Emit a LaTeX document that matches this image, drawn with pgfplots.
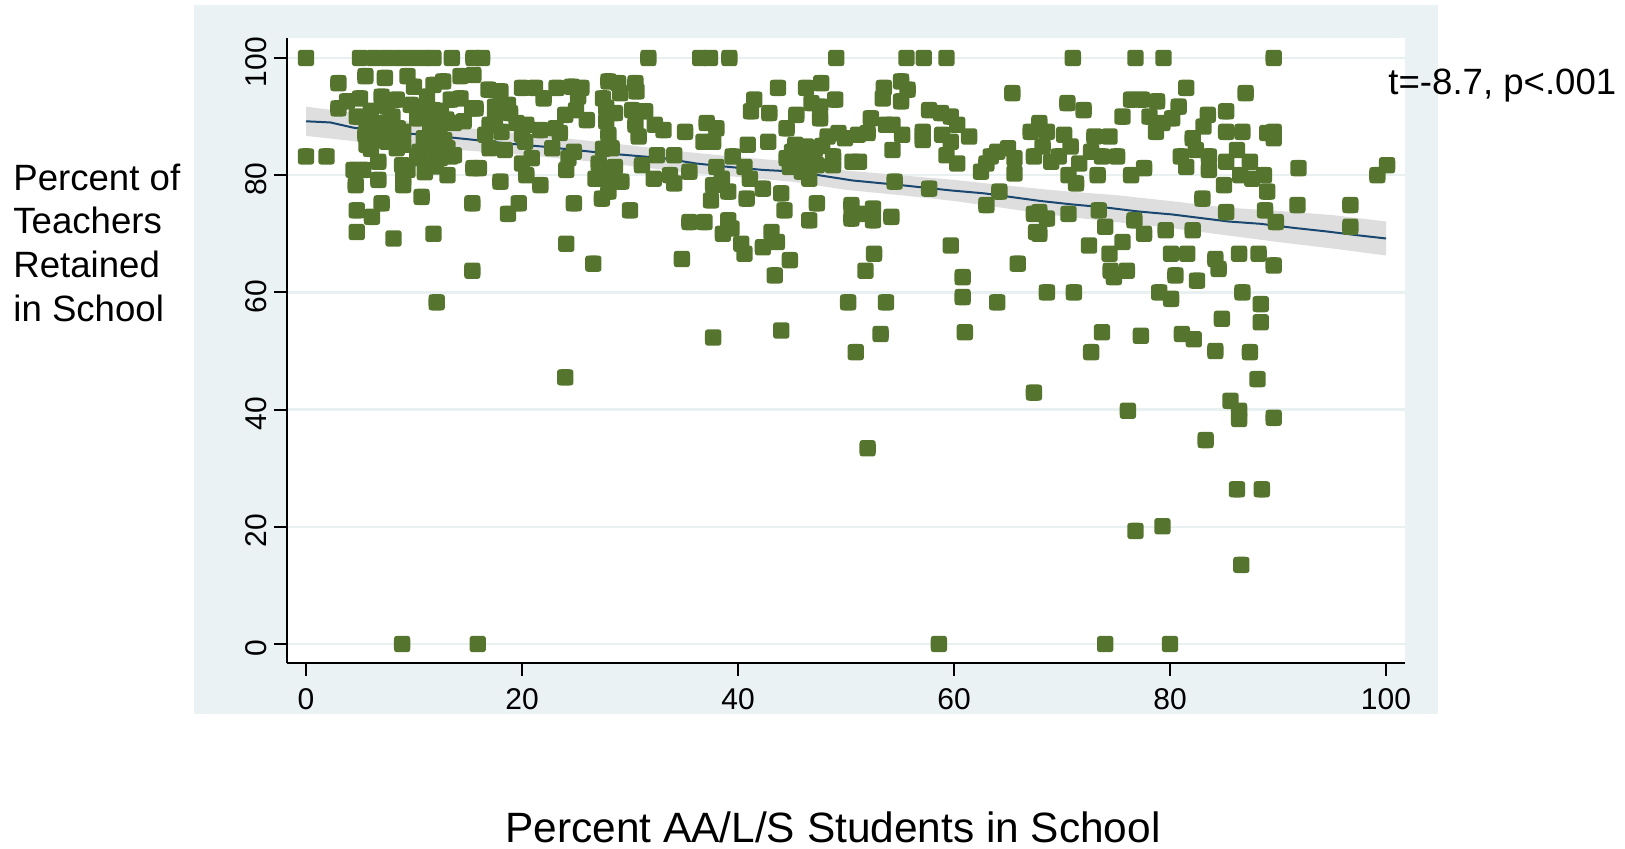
\documentclass[border=0pt]{standalone}
\usepackage{pgfplots}
\pgfplotsset{compat=1.18}
\usepackage{fontspec}
\setmainfont{Liberation Sans}

\definecolor{graphbg}{RGB}{234,242,243}
\definecolor{gridc}{RGB}{232,240,242}
\definecolor{mk}{RGB}{85,117,46}
\definecolor{fitline}{RGB}{26,71,111}
\definecolor{band}{RGB}{222,222,222}

% rounded-square marker
\pgfdeclareplotmark{rsq}{%
  \pgfpathmoveto{\pgfqpoint{0pt}{-\pgfplotmarksize}}%
  \pgfpathlineto{\pgfqpoint{0.4\pgfplotmarksize}{-\pgfplotmarksize}}%
  \pgfpathcurveto{\pgfqpoint{0.92\pgfplotmarksize}{-\pgfplotmarksize}}{\pgfqpoint{\pgfplotmarksize}{-0.92\pgfplotmarksize}}{\pgfqpoint{\pgfplotmarksize}{-0.4\pgfplotmarksize}}%
  \pgfpathlineto{\pgfqpoint{\pgfplotmarksize}{0.4\pgfplotmarksize}}%
  \pgfpathcurveto{\pgfqpoint{\pgfplotmarksize}{0.92\pgfplotmarksize}}{\pgfqpoint{0.92\pgfplotmarksize}{\pgfplotmarksize}}{\pgfqpoint{0.4\pgfplotmarksize}{\pgfplotmarksize}}%
  \pgfpathlineto{\pgfqpoint{-0.4\pgfplotmarksize}{\pgfplotmarksize}}%
  \pgfpathcurveto{\pgfqpoint{-0.92\pgfplotmarksize}{\pgfplotmarksize}}{\pgfqpoint{-\pgfplotmarksize}{0.92\pgfplotmarksize}}{\pgfqpoint{-\pgfplotmarksize}{0.4\pgfplotmarksize}}%
  \pgfpathlineto{\pgfqpoint{-\pgfplotmarksize}{-0.4\pgfplotmarksize}}%
  \pgfpathcurveto{\pgfqpoint{-\pgfplotmarksize}{-0.92\pgfplotmarksize}}{\pgfqpoint{-0.92\pgfplotmarksize}{-\pgfplotmarksize}}{\pgfqpoint{-0.4\pgfplotmarksize}{-\pgfplotmarksize}}%
  \pgfpathclose
  \pgfusepathqfill
}

\pgfplotstableread{
x y
0 100
5.0 100
6.3 100
7.5 100
8.7 100
9.8 100
10.9 100
11.8 100
13.5 100
15.5 100
3.0 95.7
5.5 96.9
7.3 96.6
9.4 96.9
10.0 95.1
11.8 95.4
12.7 96.0
14.3 96.9
15.5 97.1
3.8 92.6
3.0 91.4
5.0 93.1
7.0 93.4
7.5 91.7
8.4 92.9
9.7 92.0
11.2 93.4
11.8 91.1
13.4 92.9
14.3 93.1
15.4 91.4
4.7 90.0
5.6 89.2
6.9 88.9
7.5 88.3
9.0 87.4
10.3 89.7
11.2 90.3
12.4 88.6
13.7 88.9
14.6 89.2
5.5 86.9
5.6 85.2
6.6 86.9
7.5 85.7
8.4 84.6
9.0 85.2
10.9 86.3
11.8 85.2
13.1 84.6
13.7 83.4
0 83.2
1.9 83.2
6.7 82.3
8.9 81.7
10.3 82.9
11.2 82.3
12.4 82.9
13.4 83.2
4.4 80.9
5.3 80.9
4.6 78.3
6.7 79.2
9.0 79.4
9.4 80.9
9.0 78.3
13.1 80.0
15.5 81.2
10.7 76.3
7.0 75.2
4.7 74.0
6.1 72.9
15.4 75.2
4.7 70.3
8.1 69.2
11.8 70.0
15.4 63.7
12.1 58.3
8.9 0
15.9 0
10.5 84.0
11.5 87.5
12.0 84.0
12.8 86.0
10.8 91.5
12.5 91.0
13.0 89.5
11.0 80.5
12.0 81.5
6.0 91.0
8.0 90.0
8.5 88.0
6.0 84.5
16.3 100
31.7 100
16.9 94.6
18.0 94.3
20.0 94.9
21.2 94.9
22.0 93.1
23.2 94.9
24.6 95.1
25.5 94.9
25.2 93.4
27.5 93.1
28.0 96.0
28.9 95.7
29.1 94.0
30.5 95.7
30.6 94.3
15.7 91.4
17.5 91.7
18.7 92.0
17.5 89.7
18.9 90.6
17.0 88.6
16.6 86.9
18.1 87.4
19.5 88.9
20.4 88.6
21.7 87.7
20.0 86.9
20.3 85.7
23.1 88.0
23.5 87.2
24.0 90.3
25.0 91.1
26.0 89.4
27.8 89.2
28.0 86.9
28.6 90.6
30.2 91.1
31.4 90.9
30.5 88.6
32.3 88.6
30.8 86.6
17.0 84.6
18.4 84.3
22.8 84.6
24.8 84.0
28.3 84.6
32.5 83.4
16.0 81.2
20.0 82.0
20.9 82.9
20.4 80.0
24.3 82.9
24.1 80.9
27.1 82.0
26.8 79.4
28.6 81.4
29.2 78.9
28.0 77.2
27.4 76.0
31.1 81.7
32.2 79.4
18.0 78.9
21.7 78.3
19.7 75.2
18.7 73.4
24.8 75.2
30.0 74.0
24.1 68.3
26.6 64.9
24.0 45.5
27.8 91.5
27.5 84.5
27.2 80.5
28.2 79.5
36.5 100
37.4 100
39.2 100
49.1 100
43.7 94.9
46.3 94.9
47.7 95.7
41.5 92.9
41.2 90.9
42.9 90.6
45.4 90.3
46.8 92.3
47.6 91.7
49.0 92.9
47.6 89.7
33.1 87.7
35.1 87.4
37.1 88.9
38.0 88.0
36.8 85.7
37.7 85.7
40.9 85.2
42.8 85.7
44.5 88.0
48.3 86.6
49.3 87.2
49.9 86.3
45.3 85.2
46.3 84.9
47.1 84.3
34.1 83.4
39.5 83.2
44.5 82.9
44.8 81.4
45.7 82.9
46.6 81.7
47.3 81.7
48.8 83.2
48.8 81.7
50.6 82.3
33.7 80.0
34.1 78.6
35.5 80.6
38.0 81.4
38.5 79.4
40.6 81.4
41.1 79.4
42.3 77.7
45.9 80.6
46.6 79.4
37.7 78.3
39.1 77.2
37.5 75.7
40.8 76.0
44.0 76.9
44.3 74.0
47.3 75.2
46.6 72.3
50.5 74.9
50.5 72.6
35.5 72.0
36.9 72.0
39.1 72.3
39.4 70.9
38.6 70.0
40.3 68.3
40.6 66.6
42.3 67.7
43.1 70.3
43.6 68.6
44.8 65.5
43.4 62.9
34.8 65.7
50.2 58.3
44.0 53.5
37.7 52.3
45.0 84.0
46.0 83.5
47.8 85.0
55.6 100
57.2 100
59.3 100
53.5 94.9
55.1 96.0
55.7 94.6
53.4 93.1
55.1 92.6
65.4 94.0
57.7 91.1
58.8 90.6
59.7 90.0
60.3 88.6
52.3 89.7
53.7 88.6
54.3 88.6
52.0 87.2
51.1 86.9
55.2 86.9
57.1 87.4
57.1 86.0
58.9 86.9
59.7 85.7
61.4 86.6
54.3 84.3
59.3 83.4
60.3 82.0
51.2 82.3
63.4 83.2
65.0 84.6
65.6 82.9
67.1 87.4
67.4 83.2
62.5 80.6
65.6 80.3
54.5 78.9
57.7 77.7
64.2 77.2
63.0 74.9
51.4 73.4
52.5 74.3
52.5 72.3
54.2 72.9
67.4 73.4
67.6 70.3
59.7 68.0
52.6 66.6
51.8 63.7
65.9 64.9
60.8 62.6
60.8 59.2
64.0 58.3
53.7 58.3
53.2 52.9
61.0 53.2
50.9 49.8
67.4 42.9
58.6 0
52.0 33.4
63.0 82.0
64.0 84.0
71.0 100
76.8 100
79.4 100
81.5 94.9
70.5 92.3
72.0 91.1
75.6 90.0
76.4 92.9
77.4 92.9
78.8 92.6
78.1 90.0
80.8 91.7
80.2 89.7
79.3 88.9
78.7 87.4
83.5 90.3
83.1 88.3
85.2 90.9
85.2 87.4
67.9 88.9
68.6 87.4
68.2 84.9
70.2 86.9
70.8 84.9
73.0 86.6
74.4 86.6
72.7 84.0
73.7 83.2
75.1 83.2
69.7 83.2
69.0 82.3
71.6 82.0
70.6 80.0
71.3 78.6
73.3 80.0
76.4 80.0
77.6 81.2
81.0 83.2
81.5 81.4
82.1 86.3
82.4 84.3
83.6 83.2
83.6 80.9
85.2 82.3
85.0 78.3
83.0 76.0
85.2 73.7
67.9 73.7
68.6 72.6
67.9 70.0
70.6 73.4
73.4 74.0
74.0 71.2
76.7 72.3
77.6 70.0
79.6 70.6
82.1 70.6
72.5 68.0
74.4 66.6
75.6 68.6
80.1 66.6
81.6 66.6
84.2 65.7
84.5 64.0
74.5 63.7
74.8 62.6
76.0 63.7
80.5 62.9
82.5 62.0
68.6 60.0
71.1 60.0
79.0 60.0
80.1 58.9
84.8 55.5
73.7 53.2
77.3 52.6
81.1 52.9
82.2 52.0
72.7 49.8
84.2 50.0
76.1 39.8
74.0 0
80.0 0
76.8 19.3
79.3 20.1
83.3 34.8
89.6 100
87.0 94.0
86.7 87.4
89.0 87.2
89.6 86.3
89.6 87.4
86.2 84.3
87.4 82.3
86.5 80.0
87.6 79.4
88.7 80.0
89.0 77.2
91.9 81.2
99.2 80.0
100.1 81.7
91.8 74.9
96.7 74.9
88.8 74.0
89.8 72.0
96.7 71.2
86.4 66.6
88.2 66.6
89.6 64.6
86.7 60.0
88.4 58.0
88.4 54.9
87.4 49.8
88.1 45.2
85.6 41.5
86.4 39.8
86.4 38.4
89.6 38.6
86.2 26.4
88.5 26.4
86.6 13.5
}\retention

\begin{document}
\begin{tikzpicture}
% page extent
\path (0pt,0pt) rectangle (812.5pt,424pt);
% graph region
\fill[graphbg] (97pt,67pt) rectangle (719pt,421.5pt);

\begin{axis}[
  at={(143.5pt,92.5pt)}, anchor=south west,
  width=559pt, height=312.5pt, scale only axis,
  xmin=-1.76, xmax=101.76, ymin=-3.24, ymax=103.41,
  axis x line*=bottom, axis y line*=left,
  axis line style={line width=1pt, black},
  xtick={0,20,...,100}, ytick={0,20,...,100},
  tick align=outside, major tick length=6.5pt,
  tick style={line width=1pt, black},
  ymajorgrids, grid style={line width=1.3pt, gridc},
  axis background/.style={fill=white},
  tick label style={font=\fontsize{15}{18}\selectfont},
  /pgf/number format/assume math mode=true,
  yticklabel style={rotate=90, anchor=south, xshift=-2pt},
  xticklabel style={yshift=-2.5pt},
]
% confidence band of the fit
\addplot[fill=band, draw=none] coordinates {
  (0,91.7) (5,90.5) (10,89.0) (15,88.0) (20,87.1) (25,86.1) (30,85.1)
  (35,84.0) (40,83.1) (45,82.3) (50,80.8) (55,80.0) (60,79.2) (65,78.2)
  (70,77.3) (75,76.6) (80,75.6) (85,74.5) (90,73.9) (95,73.2) (100,72.1)
  (100,66.3) (95,67.5) (90,68.6) (85,69.8) (80,71.0) (75,72.0) (70,73.0)
  (65,74.3) (60,75.6) (55,76.6) (50,77.5) (45,78.9) (40,79.7) (35,80.5)
  (30,81.6) (25,82.6) (20,83.5) (15,84.2) (10,84.8) (5,85.7) (0,86.7)
} -- cycle;
% fitted line
\addplot[fitline, line width=1pt, no marks] coordinates {
  (0,89.2) (2.25,89.0) (4.4,88.1) (7.5,87.4) (11.5,86.8) (15.7,86.0)
  (18.7,85.4) (21.8,84.9) (24.9,84.3) (28,83.7) (33.1,82.9) (36.1,82.0)
  (39.2,81.4) (42.3,80.9) (45.4,80.6) (50.6,79.1) (55.1,78.3) (59.7,77.4)
  (62.8,76.9) (68,75.6) (71,75.0) (74,74.5) (77.1,73.8) (80.2,73.3)
  (85.4,72.1) (88.4,71.7) (91.5,71.0) (94.5,70.4) (97.6,69.7) (100,69.2)
};
% schools
\addplot[only marks, mark=rsq, mark size=4.1pt, color=mk] table[x=x, y=y] {\retention};
\end{axis}

% axis titles and annotation
\begin{scope}[font=\fontsize{18.3}{22}\selectfont]
\node[anchor=base west, inner sep=0] at (6.5pt,329pt) {Percent of};
\node[anchor=base west, inner sep=0] at (6.5pt,307.25pt) {Teachers};
\node[anchor=base west, inner sep=0] at (6.5pt,285.25pt) {Retained};
\node[anchor=base west, inner sep=0] at (6.5pt,263.25pt) {in School};
\node[anchor=base west, inner sep=0] at (694pt,376.85pt) {t=-8.7, p<.001};
\end{scope}
\node[anchor=base, inner sep=0, font=\fontsize{21.2}{26}\selectfont] at (416.5pt,3pt) {Percent AA/L/S Students in School};
\end{tikzpicture}
\end{document}
